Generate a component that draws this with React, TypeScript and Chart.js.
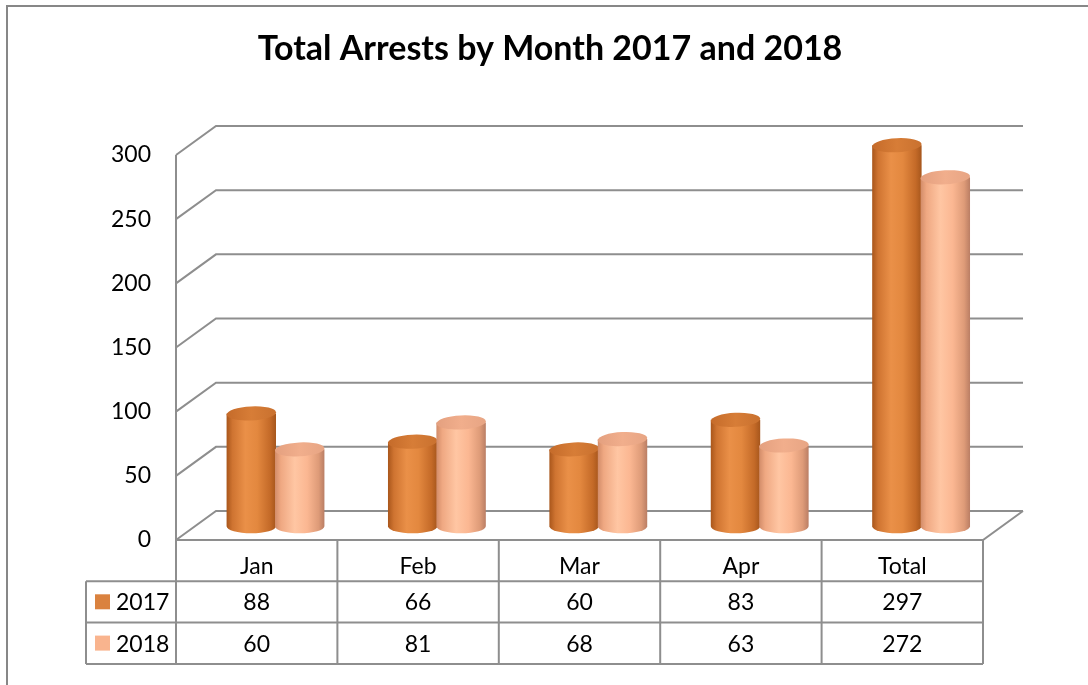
import React, { useEffect, useRef } from "react";
import { Chart, registerables } from "chart.js";

Chart.register(...registerables);

// ---- data ----
const chartTitle = "Total Arrests by Month 2017 and 2018";
const categories = ["Jan", "Feb", "Mar", "Apr", "Total"];
const seriesLabels = ["2017", "2018"];
const values2017 = [88, 66, 60, 83, 297];
const values2018 = [60, 81, 68, 63, 272];
const yMin = 0;
const yMax = 300;
const yStep = 50;

// ---- style ----
const FONT = "Lato, 'Open Sans', sans-serif";
const GRID = "#8e8e8e";
const DX = 40; // depth offset of back wall
const DY = -29;
const MID = 0.47; // cylinders sit at this fraction of depth
const swatch = ["#DA823F", "#F9B48E"];
const bodyStops = [
  [
    [0, "#A9561B"],
    [0.12, "#CF7431"],
    [0.38, "#EA9048"],
    [0.62, "#E3883F"],
    [0.88, "#C46A28"],
    [1, "#A6561C"],
  ],
  [
    [0, "#D28C69"],
    [0.12, "#EFA882"],
    [0.4, "#FFC6A3"],
    [0.65, "#FBB792"],
    [0.88, "#DE9B78"],
    [1, "#BA7E64"],
  ],
];
const capStops = [
  [
    [0, "#C56B2A"],
    [0.5, "#D77D37"],
    [1, "#C9712F"],
  ],
  [
    [0, "#E4A07F"],
    [0.5, "#F1AE8C"],
    [1, "#E7A584"],
  ],
];

function grad(ctx: CanvasRenderingContext2D, x0: number, x1: number, stops: any[]) {
  const g = ctx.createLinearGradient(x0, 0, x1, 0);
  stops.forEach((s) => g.addColorStop(s[0], s[1]));
  return g;
}

const threeD = {
  id: "threeD",
  beforeDatasetsDraw(chart: any) {
    const { ctx, chartArea } = chart;
    const y = chart.scales.y;
    const L = chartArea.left;
    const R = chartArea.right;
    ctx.save();
    ctx.strokeStyle = GRID;
    ctx.lineWidth = 2;
    ctx.lineCap = "butt";
    for (let v = yMin; v <= yMax; v += yStep) {
      const py = y.getPixelForValue(v);
      ctx.beginPath();
      ctx.moveTo(L, py);
      ctx.lineTo(L + DX, py + DY);
      ctx.lineTo(R + DX, py + DY);
      ctx.stroke();
    }
    const top = y.getPixelForValue(yMax);
    const bot = y.getPixelForValue(yMin);
    ctx.beginPath();
    ctx.moveTo(L, top);
    ctx.lineTo(L, bot);
    ctx.lineTo(R, bot);
    ctx.lineTo(R + DX, bot + DY);
    ctx.stroke();
    ctx.restore();
  },
  afterDatasetsDraw(chart: any) {
    const { ctx } = chart;
    const mx = DX * MID;
    const my = DY * MID;
    ctx.save();
    chart.data.datasets.forEach((_ds: any, di: number) => {
      const meta = chart.getDatasetMeta(di);
      meta.data.forEach((el: any) => {
        const p = el.getProps(["x", "y", "base", "width"], true);
        const cx = p.x + mx;
        const yt = p.y + my;
        const yb = p.base + my;
        const rx = p.width / 2 + 0.5;
        const ry = 7;
        const l = cx - rx;
        const r = cx + rx;
        ctx.beginPath();
        ctx.moveTo(l, yt);
        ctx.lineTo(l, yb);
        ctx.ellipse(cx, yb, rx, ry, 0, Math.PI, 0, true);
        ctx.lineTo(r, yt);
        ctx.closePath();
        ctx.fillStyle = grad(ctx, l, r, bodyStops[di]);
        ctx.fill();
        ctx.beginPath();
        ctx.ellipse(cx, yt, rx, ry, -0.05, 0, Math.PI * 2);
        ctx.fillStyle = grad(ctx, l, r, capStops[di]);
        ctx.fill();
      });
    });
    ctx.restore();
  },
  afterDraw(chart: any) {
    const { ctx, chartArea } = chart;
    const L = chartArea.left;
    const R = chartArea.right;
    const T0 = chartArea.bottom;
    const rowH = 41.3;
    const T1 = T0 + rowH;
    const T2 = T1 + rowH;
    const T3 = T2 + rowH;
    const legL = 86;
    const n = categories.length;
    const cw = (R - L) / n;
    ctx.save();
    // table grid
    ctx.strokeStyle = GRID;
    ctx.lineWidth = 2;
    ctx.beginPath();
    for (let i = 0; i <= n; i++) {
      const x = L + cw * i;
      ctx.moveTo(x, T0);
      ctx.lineTo(x, T3);
    }
    [T1, T2, T3].forEach((yy) => {
      ctx.moveTo(legL, yy);
      ctx.lineTo(R, yy);
    });
    ctx.moveTo(legL, T1);
    ctx.lineTo(legL, T3);
    ctx.stroke();

    ctx.fillStyle = "#000";
    ctx.font = `23px ${FONT}`;
    ctx.textAlign = "center";
    ctx.textBaseline = "alphabetic";
    const rows = [values2017, values2018];
    categories.forEach((c, i) => {
      const x = chart.scales.x.getPixelForValue(i);
      ctx.fillText(c, x, T0 + 34);
      rows.forEach((vals, ri) => {
        ctx.fillText(String(vals[i]), x, T1 + 29 + ri * rowH);
      });
    });
    // legend keys
    ctx.textAlign = "left";
    seriesLabels.forEach((lab, ri) => {
      const yy = T1 + ri * rowH;
      ctx.fillStyle = swatch[ri];
      ctx.fillRect(95, yy + 13, 15, 15);
      ctx.fillStyle = "#000";
      ctx.fillText(lab, 116, yy + 29);
    });

    // title
    ctx.font = `bold 34px ${FONT}`;
    ctx.textAlign = "center";
    ctx.fillText(chartTitle, 550, 60);

    // outer frame
    ctx.strokeStyle = "#878787";
    ctx.lineWidth = 2;
    ctx.beginPath();
    ctx.moveTo(7, 690);
    ctx.lineTo(7, 6);
    ctx.lineTo(1095, 6);
    ctx.stroke();
    ctx.restore();
  },
};

export default function App() {
  const ref = useRef<HTMLCanvasElement | null>(null);
  useEffect(() => {
    if (!ref.current) return;
    const chart = new Chart(ref.current, {
      type: "bar",
      data: {
        labels: categories,
        datasets: [
          { label: seriesLabels[0], data: values2017, backgroundColor: "rgba(0,0,0,0)", borderWidth: 0 },
          { label: seriesLabels[1], data: values2018, backgroundColor: "rgba(0,0,0,0)", borderWidth: 0 },
        ],
      },
      options: {
        animation: false,
        responsive: true,
        maintainAspectRatio: false,
        devicePixelRatio: 1,
        layout: { padding: { top: 155, right: 105, bottom: 145, left: 0 } },
        datasets: { bar: { categoryPercentage: 0.6, barPercentage: 1 } },
        plugins: { legend: { display: false }, title: { display: false }, tooltip: { enabled: false } },
        scales: {
          x: { display: false },
          y: {
            min: yMin,
            max: yMax,
            afterFit: (s: any) => {
              s.width = 176;
            },
            ticks: { stepSize: yStep, padding: 25, color: "#000", font: { family: FONT, size: 23 } },
            grid: { display: false, drawTicks: false },
            border: { display: false },
          },
        },
      },
      plugins: [threeD],
    });
    return () => chart.destroy();
  }, []);
  return (
    <div style={{ position: "fixed", left: 0, top: 0, width: 1088, height: 685, background: "#fff" }}>
      <canvas ref={ref} />
    </div>
  );
}
